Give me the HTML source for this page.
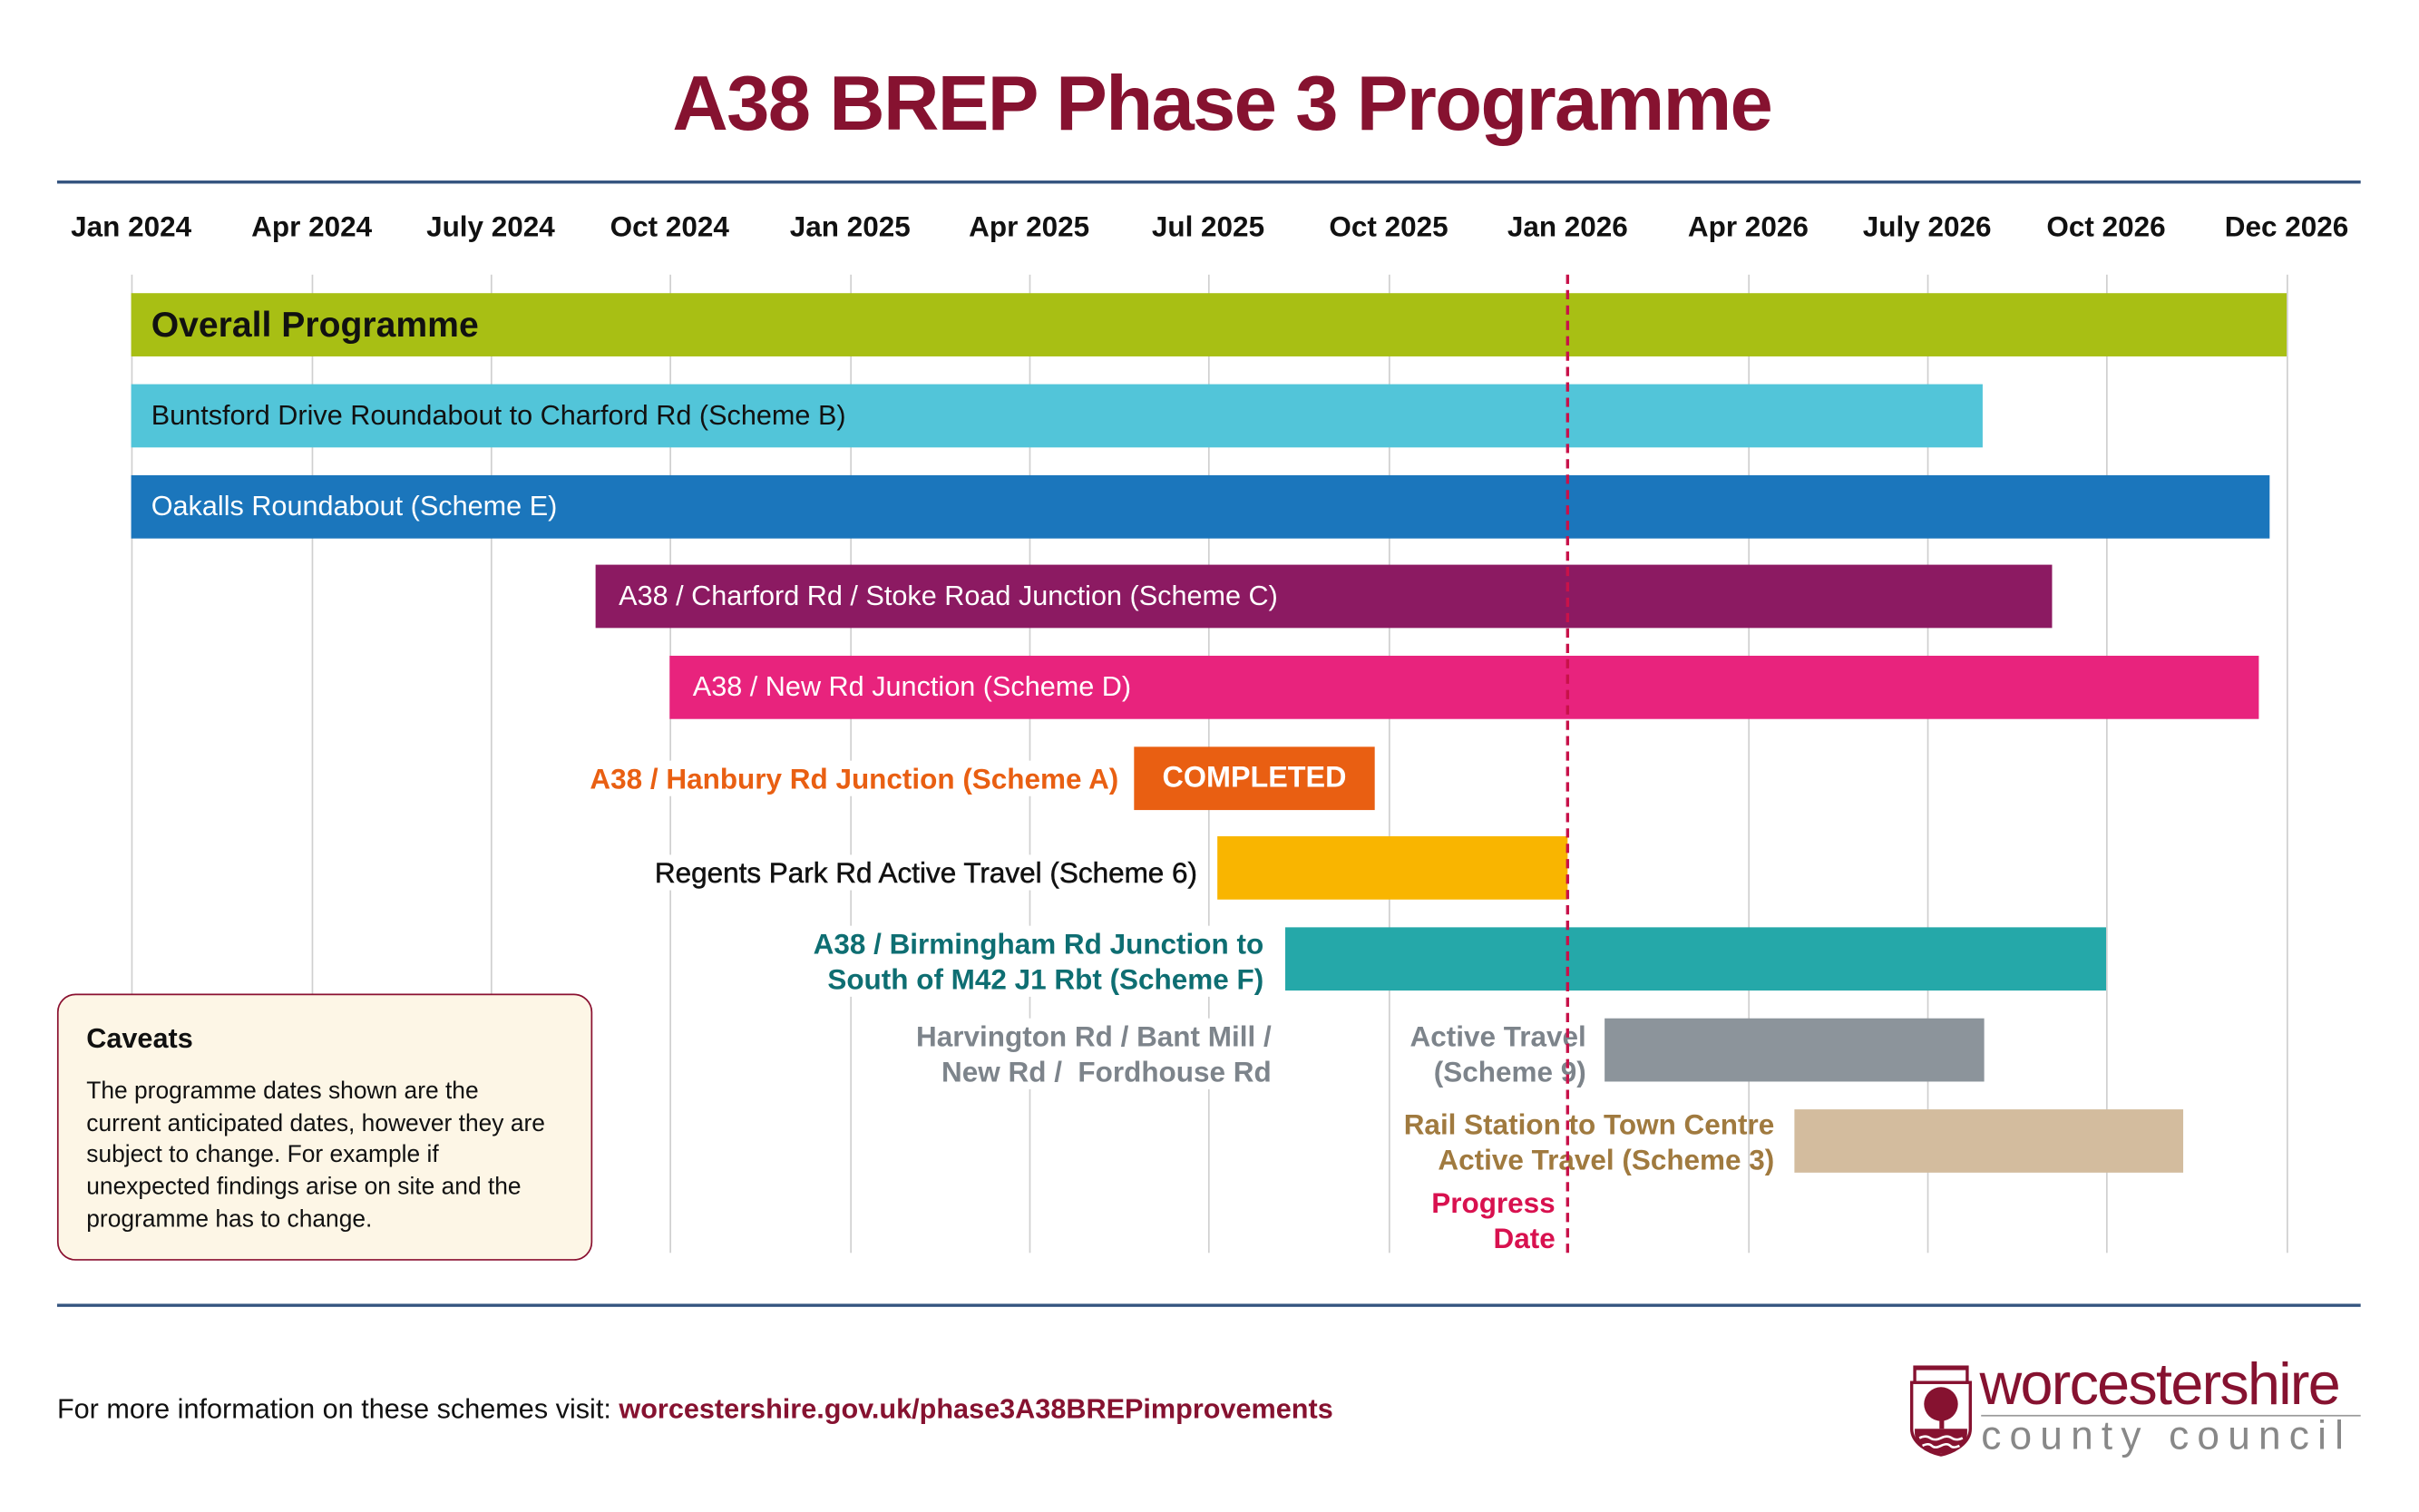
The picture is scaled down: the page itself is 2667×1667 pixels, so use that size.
<!DOCTYPE html>
<html><head><meta charset="utf-8"><style>
html,body{margin:0;padding:0;background:#fff;width:2667px;height:1667px;overflow:hidden}
#w{position:absolute;left:0;top:0;width:1568px;height:980px;transform:scale(1.7011);transform-origin:0 0;font-family:"Liberation Sans",sans-serif}
.a{position:absolute}
.m{position:absolute;top:136px;font-size:18.5px;font-weight:bold;color:#111;transform:translateX(-50%);white-space:nowrap}
.g{position:absolute;top:178px;height:634px;width:1px;background:#d0d0d0}
.bar{position:absolute;height:41px}
.bl{position:absolute;font-size:18px;white-space:nowrap;line-height:41px;left:13px;top:0}
.lab{position:absolute;font-weight:bold;font-size:18.5px;text-align:right;background:#fff;white-space:nowrap;line-height:23px;padding-left:4px}
</style></head><body><div id="w">
<div class="a" style="left:0;width:1584px;top:38px;text-align:center;font-size:50px;font-weight:bold;color:#861230;letter-spacing:-1px">A38 BREP Phase 3 Programme</div>
<div class="a" style="left:37px;width:1493px;top:117px;height:2px;background:#34547f"></div>
<div class="a" style="left:37px;width:1493px;top:845px;height:2px;background:#34547f"></div>

<div class="m" style="left:85px">Jan 2024</div><div class="m" style="left:202px">Apr 2024</div><div class="m" style="left:318px">July 2024</div><div class="m" style="left:434px">Oct 2024</div><div class="m" style="left:551px">Jan 2025</div><div class="m" style="left:667px">Apr 2025</div><div class="m" style="left:783px">Jul 2025</div><div class="m" style="left:900px">Oct 2025</div><div class="m" style="left:1016px">Jan 2026</div><div class="m" style="left:1133px">Apr 2026</div><div class="m" style="left:1249px">July 2026</div><div class="m" style="left:1365px">Oct 2026</div><div class="m" style="left:1482px">Dec 2026</div>

<div class="g" style="left:85px"></div><div class="g" style="left:202px"></div><div class="g" style="left:318px"></div><div class="g" style="left:434px"></div><div class="g" style="left:551px"></div><div class="g" style="left:667px"></div><div class="g" style="left:783px"></div><div class="g" style="left:900px"></div><div class="g" style="left:1133px"></div><div class="g" style="left:1249px"></div><div class="g" style="left:1365px"></div><div class="g" style="left:1482px"></div>

<div class="bar" style="left:85px;width:1397px;top:190px;background:#a8bf14"><div class="bl" style="font-size:23px;font-weight:bold;color:#111">Overall Programme</div></div>
<div class="bar" style="left:85px;width:1200px;top:249px;background:#52c5d9"><div class="bl" style="color:#111">Buntsford Drive Roundabout to Charford Rd (Scheme B)</div></div>
<div class="bar" style="left:85px;width:1386px;top:308px;background:#1b76bc"><div class="bl" style="color:#fff">Oakalls Roundabout (Scheme E)</div></div>
<div class="bar" style="left:386px;width:944px;top:366px;background:#8c1a62"><div class="bl" style="left:15px;color:#fff">A38 / Charford Rd / Stoke Road Junction (Scheme C)</div></div>
<div class="bar" style="left:434px;width:1030px;top:425px;background:#e8237d"><div class="bl" style="left:15px;color:#fff">A38 / New Rd Junction (Scheme D)</div></div>
<div class="bar" style="left:735px;width:156px;top:484px;background:#e95f12"><div class="bl" style="left:0;width:156px;text-align:center;color:#fff;font-weight:bold;font-size:19px">COMPLETED</div></div>
<div class="bar" style="left:789px;width:227px;top:542px;background:#f9b500"></div>
<div class="bar" style="left:833px;width:532px;top:601px;background:#25a8a9"></div>
<div class="bar" style="left:1040px;width:246px;top:660px;background:#8c949b"></div>
<div class="bar" style="left:1163px;width:252px;top:719px;background:#d3bc9e"></div>

<div class="lab" style="right:843px;top:493px;color:#e95f12">A38 / Hanbury Rd Junction (Scheme A)</div>
<div class="lab" style="right:792px;top:554px;color:#111;font-weight:normal;-webkit-text-stroke:0.3px #111">Regents Park Rd Active Travel (Scheme 6)</div>
<div class="lab" style="right:749px;top:600px;color:#0e6e72">A38 / Birmingham Rd Junction to<br>South of M42 J1 Rbt (Scheme F)</div>
<div class="lab" style="right:744px;top:660px;color:#7d848b">Harvington Rd / Bant Mill /<br>New Rd /&nbsp; Fordhouse Rd</div>
<div class="lab" style="right:540px;top:660px;color:#7d848b">Active Travel<br>(Scheme 9)</div>
<div class="lab" style="right:418px;top:717px;color:#a07a3f;background:transparent">Rail Station to Town Centre<br>Active Travel (Scheme 3)</div>
<div class="lab" style="right:560px;top:768px;color:#d8114f">Progress<br>Date</div>

<div class="a" style="left:1015px;top:178px;width:0;height:634px;border-left:2.5px dashed #c8124a"></div>

<div class="a" style="left:37px;top:644px;width:345px;height:171px;border:1.5px solid #8a1030;border-radius:12px;background:#fdf6e6"></div>
<div class="a" style="left:56px;top:663px;font-size:18px;font-weight:bold;color:#111">Caveats</div>
<div class="a" style="left:56px;top:698px;width:302px;font-size:15.5px;line-height:20.7px;color:#111">The programme dates shown are the current anticipated dates, however they are subject to change. For example if unexpected findings arise on site and the programme has to change.</div>

<div class="a" style="left:37px;top:903px;font-size:18px;color:#111;white-space:nowrap">For more information on these schemes visit: <b style="color:#861230">worcestershire.gov.uk/phase3A38BREPimprovements</b></div>

<svg class="a" style="left:1236px;top:882px" width="44" height="62" viewBox="0 0 44 62">
<path d="M3 14h38v30c0 9-10 15-19 17C13 59 3 53 3 44z" fill="#fff" stroke="#861230" stroke-width="2"/>
<rect x="4" y="3" width="36" height="12" fill="#861230"/>
<rect x="6" y="6" width="32" height="7" fill="#fff"/>
<circle cx="22" cy="28" r="11" fill="#861230"/>
<rect x="21" y="32" width="3" height="12" fill="#861230"/>
<path d="M5 44h34v3c0 7-9 12-17 13C13 59 5 53 5 47z" fill="#861230"/>
<path d="M8 50q4-2 7 0t7 0t7 0t7 0M10 55q4-2 6 0t6 0t6 0t6 0" stroke="#fff" stroke-width="1.5" fill="none"/>
</svg>
<div class="a" style="left:1283px;top:876px;font-size:38px;color:#861230;letter-spacing:-1px;line-height:44px">worcestershire</div>
<div class="a" style="left:1284px;top:917px;width:246px;height:1px;background:#999"></div>
<div class="a" style="left:1284px;top:915px;font-size:26px;color:#888;letter-spacing:5.4px;line-height:30px">county council</div>
</div></body></html>
